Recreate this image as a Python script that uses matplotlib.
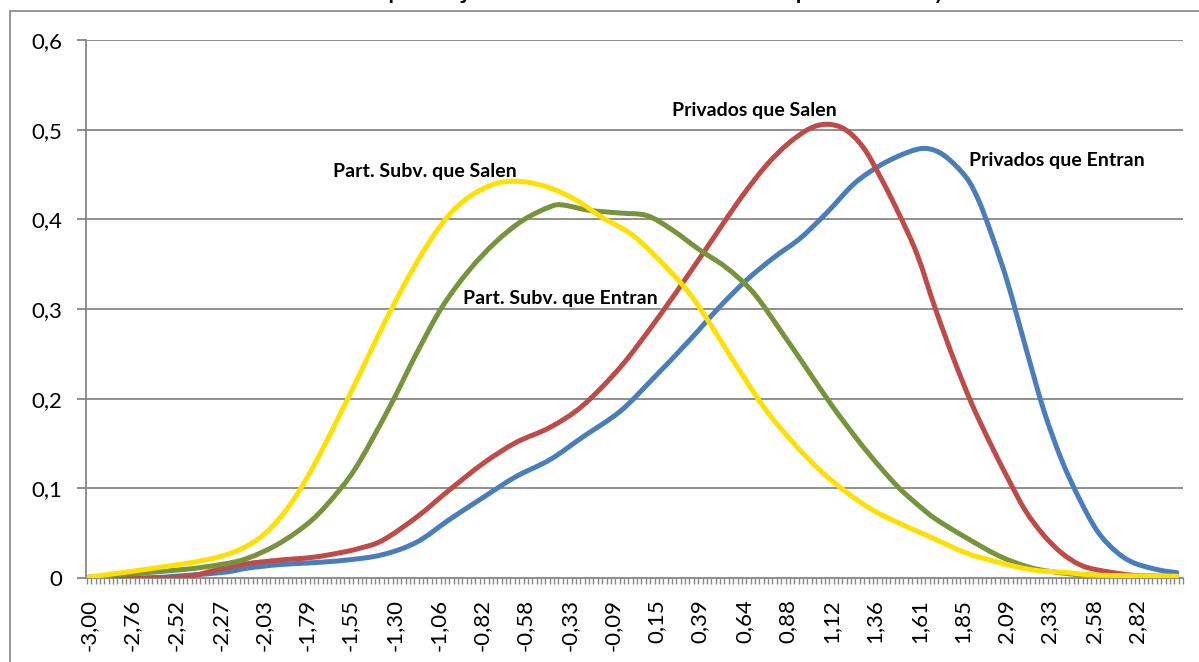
import numpy as np
import matplotlib
matplotlib.use('Agg')
import matplotlib.pyplot as plt
from matplotlib.path import Path
from matplotlib.patches import PathPatch, Rectangle

# ------------------------------------------------------------
#  Kernel density curves (score, density)
# ------------------------------------------------------------

x_priv_entran = [-3.00, -2.68, -2.27, -2.12, -1.94, -1.76, -1.57, -1.37, -1.18, -1.00,
                 -0.81, -0.63, -0.44, -0.26, -0.05, 0.13, 0.32, 0.50, 0.65, 0.80,
                 0.95, 1.10, 1.25, 1.40, 1.55, 1.65, 1.75, 1.87, 1.94, 2.01,
                 2.10, 2.20, 2.30, 2.40, 2.50, 2.60, 2.70, 2.80, 2.94, 3.04]
y_priv_entran = [0.000, 0.000, 0.006, 0.011, 0.015, 0.017, 0.020, 0.026, 0.040, 0.065,
                 0.090, 0.113, 0.132, 0.157, 0.186, 0.222, 0.262, 0.302, 0.332, 0.357,
                 0.379, 0.408, 0.440, 0.461, 0.475, 0.479, 0.471, 0.447, 0.421, 0.384,
                 0.330, 0.258, 0.188, 0.132, 0.088, 0.052, 0.030, 0.017, 0.009, 0.006]

x_priv_salen = [-3.00, -2.50, -2.27, -2.12, -1.94, -1.76, -1.61, -1.50, -1.37, -1.18,
                -1.00, -0.81, -0.63, -0.44, -0.26, -0.05, 0.13, 0.30, 0.47, 0.62,
                0.76, 0.88, 1.00, 1.10, 1.20, 1.30, 1.40, 1.50, 1.60, 1.70,
                1.80, 1.90, 2.00, 2.10, 2.20, 2.30, 2.40, 2.50, 2.60, 2.80,
                3.04]
y_priv_salen = [0.000, 0.001, 0.010, 0.016, 0.020, 0.023, 0.028, 0.033, 0.042, 0.068,
                0.098, 0.128, 0.151, 0.168, 0.192, 0.235, 0.282, 0.330, 0.380, 0.424,
                0.460, 0.484, 0.501, 0.506, 0.500, 0.480, 0.445, 0.405, 0.360, 0.300,
                0.245, 0.195, 0.152, 0.112, 0.075, 0.048, 0.028, 0.015, 0.009, 0.003,
                0.001]

x_subv_entran = [-3.00, -2.50, -2.27, -2.12, -1.94, -1.76, -1.61, -1.50, -1.33, -1.18,
                 -1.04, -0.89, -0.74, -0.59, -0.44, -0.37, -0.22, -0.05, 0.10, 0.24,
                 0.39, 0.54, 0.69, 0.84, 0.98, 1.13, 1.28, 1.40, 1.50, 1.60,
                 1.70, 1.87, 2.06, 2.24, 2.43, 2.61, 3.04]
y_subv_entran = [0.001, 0.009, 0.015, 0.022, 0.039, 0.065, 0.098, 0.129, 0.191, 0.251,
                 0.302, 0.343, 0.375, 0.399, 0.414, 0.416, 0.410, 0.407, 0.404, 0.388,
                 0.366, 0.346, 0.318, 0.276, 0.235, 0.191, 0.151, 0.122, 0.100, 0.082,
                 0.066, 0.045, 0.024, 0.011, 0.005, 0.003, 0.002]

x_subv_salen = [-3.00, -2.50, -2.27, -2.12, -2.01, -1.90, -1.80, -1.70, -1.60, -1.50,
                -1.40, -1.30, -1.20, -1.10, -1.00, -0.89, -0.74, -0.59, -0.44, -0.29,
                -0.15, 0.00, 0.13, 0.32, 0.46, 0.61, 0.76, 0.91, 1.06, 1.21,
                1.35, 1.50, 1.68, 1.87, 2.06, 2.24, 2.43, 2.61, 3.04]
y_subv_salen = [0.001, 0.015, 0.024, 0.036, 0.052, 0.077, 0.108, 0.145, 0.185, 0.226,
                0.268, 0.308, 0.345, 0.378, 0.405, 0.425, 0.440, 0.442, 0.435, 0.421,
                0.402, 0.385, 0.362, 0.321, 0.280, 0.232, 0.187, 0.151, 0.120, 0.095,
                0.076, 0.061, 0.045, 0.028, 0.017, 0.009, 0.006, 0.003, 0.002]

series_names = ['Privados que Entran', 'Privados que Salen',
                'Part. Subv. que Entran', 'Part. Subv. que Salen']

x_labels = ['-3,00', '-2,76', '-2,52', '-2,27', '-2,03', '-1,79', '-1,55', '-1,30',
            '-1,06', '-0,82', '-0,58', '-0,33', '-0,09', '0,15', '0,39', '0,64',
            '0,88', '1,12', '1,36', '1,61', '1,85', '2,09', '2,33', '2,58', '2,82']
y_ticks = [0, 0.1, 0.2, 0.3, 0.4, 0.5, 0.6]
y_labels = ['0', '0,1', '0,2', '0,3', '0,4', '0,5', '0,6']

title = 'Gráfico N° 3: Distribución de puntajes en Matemática de los que entran y salen'


def smooth_path(xs, ys):
    """Catmull-Rom curve through the points, as cubic Bezier segments."""
    pts = np.column_stack([xs, ys]).astype(float)
    ext = np.vstack([pts[0], pts, pts[-1]])
    verts = [pts[0]]
    codes = [Path.MOVETO]
    for i in range(len(pts) - 1):
        p0, p1, p2, p3 = ext[i], ext[i + 1], ext[i + 2], ext[i + 3]
        verts += [p1 + (p2 - p0) / 6.0, p2 - (p3 - p1) / 6.0, p2]
        codes += [Path.CURVE4] * 3
    return Path(verts, codes)


plt.rcParams['font.family'] = ['Lato', 'DejaVu Sans']

W, H = 1199, 662
fig = plt.figure(figsize=(W / 100, H / 100), dpi=100)
ax = fig.add_axes([86 / W, 1 - 578 / H, (1183 - 86) / W, (578 - 40) / H])

grey = '#868686'

# chart frame (runs off the right and bottom edges)
fig.add_artist(Rectangle((9.5 / W, -0.05), 1.0, 1.05 - 11 / H, transform=fig.transFigure,
                         fill=False, ec=grey, lw=1.2))
# title sits almost entirely above the top edge
fig.text(10 / W, 1 + 2 / H, title, fontsize=21, va='baseline', ha='left', color='black')

ax.set_xlim(-3.0166, 3.071)
ax.set_ylim(0, 0.6)

for y in y_ticks[1:]:
    ax.axhline(y, color=grey, lw=1.3, zorder=1)

curves = [
    (x_priv_entran, y_priv_entran, '#4A7EBB'),
    (x_priv_salen, y_priv_salen, '#BE4B48'),
    (x_subv_entran, y_subv_entran, '#77933C'),
    (x_subv_salen, y_subv_salen, '#FFE000'),
]
for xs, ys, c in curves:
    ax.add_patch(PathPatch(smooth_path(xs, ys), fill=False, ec=c, lw=3.6,
                           capstyle='round', joinstyle='round', zorder=3))

# series labels
label_pos = [(2.372, 0.466), (0.696, 0.521), (-0.381, 0.312), (-1.135, 0.453)]
for name, (lx, ly) in zip(series_names, label_pos):
    ax.text(lx, ly, name, ha='center', va='center', fontsize=14, fontweight='bold',
            color='black', zorder=5)

for side in ['top', 'right']:
    ax.spines[side].set_visible(False)
for side in ['left', 'bottom']:
    ax.spines[side].set_color(grey)
    ax.spines[side].set_linewidth(1.3)

# category axis: labels every 10th category, tick marks at category borders
ax.set_xticks([float(s.replace(',', '.')) for s in x_labels])
ax.set_xticklabels(x_labels, rotation=90, fontsize=16)
ax.tick_params(axis='x', which='major', length=0, pad=15)
ax.set_xticks(np.arange(-3.0121, 3.08, 0.02425), minor=True)
ax.tick_params(axis='x', which='minor', length=4.5, color=grey, width=1.0)

ax.set_yticks(y_ticks)
ax.set_yticklabels(y_labels, fontsize=16)
ax.tick_params(axis='y', length=6.2, color=grey, width=1.3, pad=11)

fig.savefig('out.png', dpi=100)
